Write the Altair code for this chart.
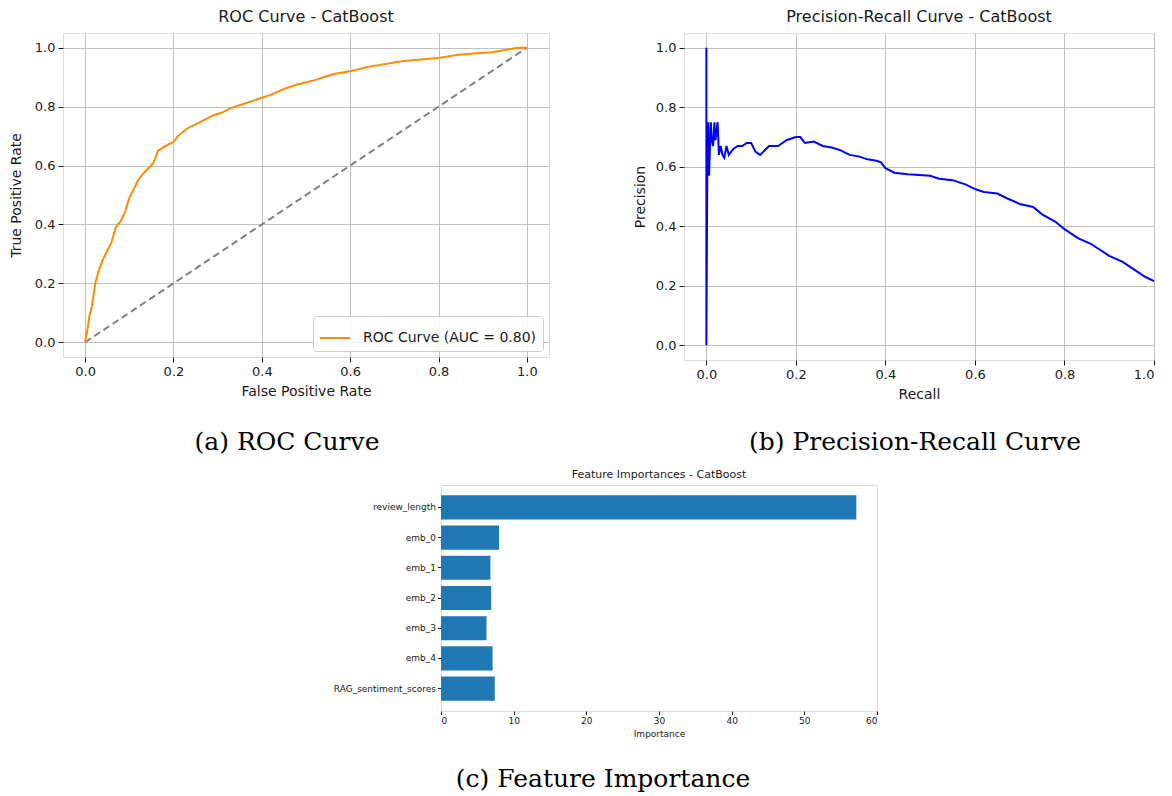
import altair as alt
import pandas as pd

# ---------------- data ----------------
roc_fpr = [0.0, 0.005, 0.01, 0.015, 0.02, 0.023, 0.03, 0.04, 0.05, 0.06, 0.069, 0.08, 0.09,
           0.10, 0.11, 0.12, 0.13, 0.149, 0.155, 0.165, 0.18, 0.20, 0.21, 0.23, 0.25, 0.27,
           0.29, 0.31, 0.33, 0.36, 0.39, 0.42, 0.45, 0.48, 0.52, 0.56, 0.60, 0.64, 0.68,
           0.72, 0.76, 0.80, 0.84, 0.88, 0.92, 0.96, 0.98, 1.0]
roc_tpr = [0.0, 0.04, 0.09, 0.12, 0.17, 0.20, 0.24, 0.28, 0.31, 0.34, 0.39, 0.41, 0.44,
           0.49, 0.52, 0.55, 0.57, 0.60, 0.61, 0.65, 0.665, 0.68, 0.70, 0.725, 0.74, 0.755,
           0.77, 0.78, 0.795, 0.81, 0.825, 0.84, 0.86, 0.875, 0.89, 0.91, 0.92, 0.935, 0.945,
           0.955, 0.96, 0.965, 0.975, 0.98, 0.985, 0.995, 1.0, 1.0]
diag_vals = [0.0, 1.0]
roc_label = "ROC Curve (AUC = 0.80)"

pr_recall = [0.0, 0.0, 0.002, 0.004, 0.006, 0.008, 0.01, 0.012, 0.015, 0.018, 0.02, 0.022,
             0.025, 0.028, 0.032, 0.036, 0.04, 0.045, 0.05, 0.06, 0.07, 0.08, 0.09, 0.10,
             0.11, 0.12, 0.14, 0.16, 0.18, 0.20, 0.21, 0.22, 0.24, 0.26, 0.28, 0.30, 0.32,
             0.34, 0.36, 0.38, 0.39, 0.40, 0.42, 0.45, 0.50, 0.52, 0.55, 0.58, 0.60, 0.62,
             0.65, 0.67, 0.70, 0.73, 0.75, 0.78, 0.80, 0.83, 0.86, 0.88, 0.90, 0.93, 0.96,
             0.98, 1.0]
pr_precision = [1.0, 0.0, 0.58, 0.75, 0.57, 0.67, 0.75, 0.69, 0.67, 0.75, 0.69, 0.71,
                0.75, 0.64, 0.67, 0.64, 0.63, 0.67, 0.64, 0.66, 0.67, 0.67, 0.68, 0.68,
                0.65, 0.64, 0.67, 0.67, 0.69, 0.70, 0.70, 0.68, 0.685, 0.67, 0.665, 0.655, 0.64,
                0.635, 0.625, 0.62, 0.615, 0.595, 0.58, 0.575, 0.57, 0.56, 0.555, 0.54, 0.525,
                0.515, 0.51, 0.495, 0.475, 0.465, 0.44, 0.415, 0.39, 0.36, 0.34, 0.32, 0.30,
                0.28, 0.25, 0.23, 0.215]

features = ["review_length", "emb_0", "emb_1", "emb_2", "emb_3", "emb_4", "RAG_sentiment_scores"]
importances = [57.15, 7.99, 6.80, 6.90, 6.26, 7.10, 7.40]

captions = ["(a) ROC Curve", "(b) Precision-Recall Curve", "(c) Feature Importance"]
titles = ["ROC Curve - CatBoost", "Precision-Recall Curve - CatBoost", "Feature Importances - CatBoost"]

unit_ticks = [0.0, 0.2, 0.4, 0.6, 0.8, 1.0]
imp_ticks = [0, 10, 20, 30, 40, 50, 60]

# ---------------- styling ----------------
FONT = "DejaVu Sans"
SERIF = "DejaVu Serif"
TXT = "#1a1a1a"
GRID = "#c0c0c0"


def unit_axis(title, title_pad, flush=False):
    extra = {"labelFlush": 1} if flush else {}
    return alt.Axis(title=title, values=unit_ticks, format=".1f", grid=True,
                    gridColor=GRID, gridWidth=1, domain=False,
                    labelFont=FONT, labelFontSize=13, labelColor=TXT, labelPadding=3,
                    titleFont=FONT, titleFontSize=14, titleFontWeight="normal",
                    titleColor=TXT, titlePadding=title_pad,
                    tickColor=TXT, tickSize=5, tickWidth=1, **extra)


def caption_layer(text, x, y):
    df = pd.DataFrame({"t": [text]})
    return alt.Chart(df).mark_text(font=SERIF, fontSize=25, color="#000",
                                   align="center", baseline="middle").encode(
        text="t:N", x=alt.value(x), y=alt.value(y))


# ---------------- ROC ----------------
roc_df = pd.DataFrame({"fpr": roc_fpr, "tpr": roc_tpr,
                       "series": [roc_label] * len(roc_fpr),
                       "idx": list(range(len(roc_fpr)))})
diag_df = pd.DataFrame({"fpr": diag_vals, "tpr": diag_vals})

roc_w, roc_h = 486, 324
rx = alt.X("fpr:Q", scale=alt.Scale(domain=[-0.05, 1.05], nice=False, zero=False),
           axis=unit_axis("False Positive Rate", 6))
ry = alt.Y("tpr:Q", scale=alt.Scale(domain=[-0.05, 1.05], nice=False, zero=False),
           axis=unit_axis("True Positive Rate", 11))

roc_line = alt.Chart(roc_df).mark_line(strokeWidth=2).encode(
    x=rx, y=ry, order="idx:Q",
    color=alt.Color("series:N", scale=alt.Scale(domain=[roc_label], range=["#ff8c00"]),
                    legend=alt.Legend(title=None, orient="bottom-right", offset=6,
                                      symbolType="stroke", symbolStrokeWidth=2,
                                      symbolSize=900, labelFont=FONT, labelFontSize=14,
                                      labelColor=TXT, labelOffset=12, labelLimit=400,
                                      fillColor="rgba(255,255,255,0.85)",
                                      strokeColor="#cccccc", cornerRadius=3,
                                      padding=6)))
roc_diag = alt.Chart(diag_df).mark_line(strokeWidth=2, strokeDash=[7, 4], color="#808080").encode(
    x="fpr:Q", y="tpr:Q")

roc = alt.layer(roc_diag, roc_line, caption_layer(captions[0], 224, 409)).properties(
    width=roc_w, height=roc_h,
    title=alt.TitleParams(titles[0], font=FONT, fontSize=16, fontWeight="normal",
                          color=TXT, frame="group", offset=8))

# ---------------- PR ----------------
pr_df = pd.DataFrame({"recall": pr_recall, "precision": pr_precision,
                      "idx": list(range(len(pr_recall)))})
pr_w, pr_h = 470, 327
px_ = alt.X("recall:Q", scale=alt.Scale(domain=[-0.05, 1.0], nice=False, zero=False),
            axis=unit_axis("Recall", 6, flush=True))
py_ = alt.Y("precision:Q", scale=alt.Scale(domain=[-0.05, 1.05], nice=False, zero=False),
            axis=unit_axis("Precision", 8))
pr_line = alt.Chart(pr_df).mark_line(strokeWidth=2, color="#0000ff").encode(
    x=px_, y=py_, order="idx:Q")
pr = alt.layer(pr_line, caption_layer(captions[1], 231, 409)).properties(
    width=pr_w, height=pr_h,
    title=alt.TitleParams(titles[1], font=FONT, fontSize=16, fontWeight="normal",
                          color=TXT, frame="group", offset=8))

# ---------------- Feature importance ----------------
fi_df = pd.DataFrame({"feature": features, "importance": importances})
fi_w, fi_h = 436, 226
fi_bars = alt.Chart(fi_df).mark_bar(color="#1f77b4").encode(
    x=alt.X("importance:Q", scale=alt.Scale(domain=[0, 60], nice=False, zero=True),
            axis=alt.Axis(title="Importance", values=imp_ticks, format="d", grid=False,
                          domain=False, labelFont=FONT, labelFontSize=9, labelColor=TXT,
                          labelPadding=2, titleFont=FONT, titleFontSize=9,
                          titleFontWeight="normal", titleColor=TXT, titlePadding=4,
                          tickColor=TXT, tickSize=3.5)),
    y=alt.Y("feature:N", sort=features,
            scale=alt.Scale(paddingInner=0.2, paddingOuter=0.34),
            axis=alt.Axis(title=None, domain=False, labelFont=FONT, labelFontSize=9,
                          labelColor=TXT, labelPadding=2, tickColor=TXT, tickSize=3.5)))
fi = alt.layer(fi_bars, caption_layer(captions[2], 162, 294)).properties(
    width=fi_w, height=fi_h,
    title=alt.TitleParams(titles[2], font=FONT, fontSize=11, fontWeight="normal",
                          color=TXT, frame="group", offset=5))

spacer = alt.Chart(pd.DataFrame({"s": [0]})).mark_point(opacity=0).encode(
    x=alt.X("s:Q", axis=None), y=alt.Y("s:Q", axis=None)
).properties(width=259, height=10, view=alt.ViewBackground(stroke=None))

top = alt.hconcat(roc, pr, spacing=82).resolve_legend(color="independent")
bottom = alt.hconcat(spacer, fi, spacing=10)
chart = alt.vconcat(top, bottom, spacing=12).resolve_legend(color="independent").properties(
    padding={"left": 0, "top": 0, "right": 0, "bottom": 0}
).configure_view(stroke="#000", strokeWidth=1).configure(background="white")

chart.save("out.html", embed_options={"renderer": "svg", "actions": False})
